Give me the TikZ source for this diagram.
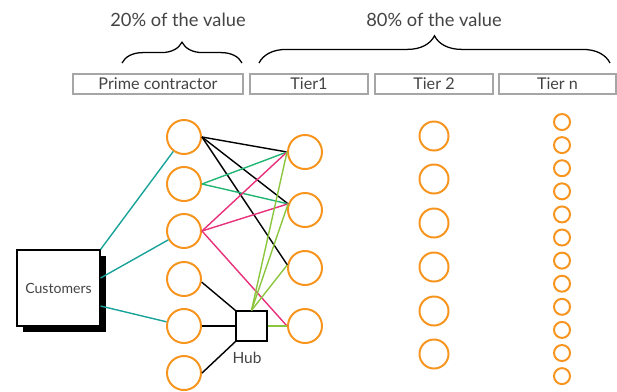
\documentclass[tikz,border=0pt]{standalone}
\usepackage{fontspec}
\setmainfont{Lato}
\usepackage{xcolor}
\usetikzlibrary{decorations.pathreplacing,shadows}

\definecolor{orng}{HTML}{F7941D}
\definecolor{teal}{HTML}{1AA39A}
\definecolor{grn}{HTML}{22B573}
\definecolor{pnk}{HTML}{E8317B}
\definecolor{lgrn}{HTML}{8CC63F}
\definecolor{txtgray}{HTML}{444444}

\tikzset{
  firm/.style={circle, draw=orng, line width=1.4pt, minimum size=#1, inner sep=0pt},
  head/.style={draw=gray!70, line width=0.9pt, minimum height=0.5cm, inner sep=0pt,
    text=txtgray, font=\fontsize{11.5}{13}\selectfont},
  link/.style={line width=1pt},
  bracket/.style={decorate, decoration={brace, amplitude=#1}, line width=0.9pt}
}

\begin{document}
\begin{tikzpicture}[x=0.025cm, y=-0.025cm]
            \useasboundingbox (0,0) rectangle (617,391);

            \node[text=txtgray, font=\fontsize{13}{15}\selectfont] (v20) at (178,20) {20\% of the value};
            \node[text=txtgray, font=\fontsize{13}{15}\selectfont] (v80) at (434,20) {80\% of the value};

            \node[head, minimum width=4.25cm] (hpc) at (158,84) {Prime contractor};
            \node[head, minimum width=2.95cm] (ht1) at (309,84) {Tier1};
            \node[head, minimum width=2.95cm] (ht2) at (434,84) {Tier 2};
            \node[head, minimum width=2.925cm] (htn) at (557.5,84) {Tier n};

            \coordinate (b20l) at (122,63);
            \coordinate (b20r) at (242,63);
            \coordinate (b80l) at (259,63);
            \coordinate (b80r) at (610,63);
            \draw[bracket=0.52cm] (b20l) -- (b20r);
            \draw[bracket=0.68cm] (b80l) -- (b80r);

            \foreach \y [count=\i] in {137,184,231,279,326,373}
                \node[firm=0.85cm] (p\i) at (184,\y) {};
            \foreach \y [count=\i] in {152,210,268,326}
                \node[firm=0.85cm] (t\i) at (305,\y) {};
            \foreach \y [count=\i] in {136,179,223,267,311,354}
                \node[firm=0.725cm] (s\i) at (434,\y) {};
            \foreach \i in {1,...,12}
                \node[firm=0.4cm] (n\i) at (562,{122+23.1*(\i-1)}) {};

            \node[draw, fill=white, line width=0.8pt, minimum width=2.075cm, minimum height=1.9cm,
                inner sep=0pt, text=txtgray, font=\fontsize{10}{12}\selectfont,
                drop shadow={shadow xshift=0.15cm, shadow yshift=-0.15cm, fill=black, opacity=1}]
                (cust) at (58.5,288) {Customers};
            \node[draw, line width=0.9pt, minimum width=0.775cm, minimum height=0.75cm, inner sep=0pt]
                (hub) at (251.5,326) {};
            \node[text=txtgray, font=\fontsize{11}{13}\selectfont] (hublbl) at (247,358) {Hub};

            \draw[link, teal] (cust.north east) -- (p1);
            \draw[link, teal] ([yshift=0.25cm]cust.east) -- (p3);
            \draw[link, teal] ([yshift=-0.45cm]cust.east) -- (p5);

            \draw[link, black] (p1.east) -- (t1.west);
            \draw[link, black] (p1.east) -- (t2.160);
            \draw[link, black] (p1.east) -- (t3.170);

            \draw[link, grn] (p2.east) -- (t1.west);
            \draw[link, grn] (p2.east) -- (t2.160);

            \draw[link, pnk] (p3.east) -- (t1.west);
            \draw[link, pnk] (p3.east) -- (t2.160);
            \draw[link, pnk] (p3.east) -- (t4.west);

            \draw[link, lgrn] (hub.north) -- (t1.west);
            \draw[link, lgrn] (hub.north) -- (t2.160);
            \draw[link, lgrn] (hub.north) -- (t3.170);
            \draw[link, lgrn] (hub.east) -- (t4.west);

            \draw[link, black] (p4.-10) -- (hub.north west);
            \draw[link, black] (p5.east) -- (hub.west);
            \draw[link, black] (p6.east) -- (hub.south west);
        \end{tikzpicture}
\end{document}
